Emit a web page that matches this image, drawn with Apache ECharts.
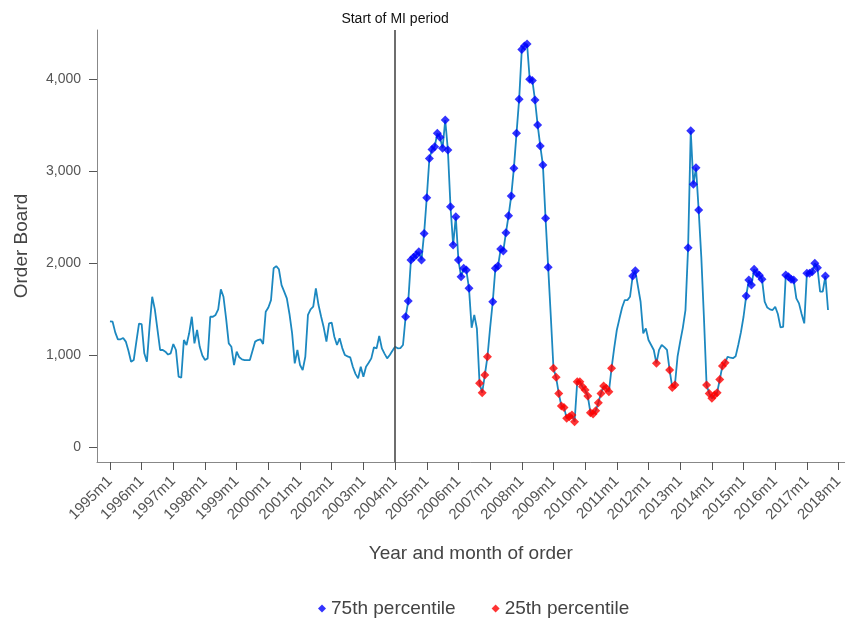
<!DOCTYPE html>
<html>
<head>
<meta charset="utf-8">
<script src="https://cdn.jsdelivr.net/npm/echarts@6/dist/echarts.min.js"></script>
<style>
html,body{margin:0;padding:0;background:#fff;}
#chart{width:846px;height:619px;}
</style>
</head>
<body>
<div id="chart"></div>
<script>
// Monthly order board, 1995m1 .. 2003m12 (pre-MI period)
const orderBoardPre = [
  1370,1366,1250,1175,1175,1190,1150,1050,932,950,1150,1345,
  1341,1023,932,1312,1637,1500,1280,1059,1059,1040,1010,1023,
  1124,1059,769,758,1167,1113,1240,1420,1131,1276,1094,1000,
  950,968,1420,1420,1440,1500,1717,1637,1400,1131,1094,896,
  1040,980,957,950,950,950,1050,1150,1167,1175,1124,1474,
  1520,1600,1946,1970,1935,1764,1692,1620,1450,1240,914,1059,
  896,841,986,1439,1501,1529,1728,1547,1420,1300,1149,1348,
  1355,1203,1113,1186,1080,1004,990,979,877,800,751,877,
  769,877,920,968,1088,1077,1211,1077,1020,968,1004,1050
];
// Monthly order board, 2004m1 .. 2017m9 (MI period)
const orderBoardMI = [
  1094,1077,1080,1113,1420,1590,2036,2065,2090,2126,2036,2325,
  2712,3138,3237,3266,3411,3368,3250,3556,3230,2615,2199,2506,
  2036,1855,1946,1927,1728,1300,1439,1290,697,595,787,986,
  1300,1583,1946,1970,2155,2134,2332,2517,2731,3031,3411,3781,
  4320,4360,4381,3998,3985,3773,3502,3274,3067,2489,1956,1420,
  860,762,588,451,436,317,335,353,280,714,714,660,
  624,559,378,364,400,486,588,668,643,606,860,1080,
  1276,1400,1520,1601,1601,1637,1862,1920,1750,1583,1240,1294,
  1167,1113,1059,914,1060,1113,1090,1060,841,653,679,986,
  1150,1300,1493,2170,3440,2858,3038,2579,2070,1410,679,588,
  534,570,595,740,885,921,986,975,970,990,1113,1250,
  1420,1645,1819,1764,1935,1891,1870,1826,1583,1520,1500,1493,
  1529,1450,1305,1310,1873,1855,1826,1819,1620,1565,1450,1348,
  1891,1891,1909,2000,1952,1692,1692,1862,1493
];
// Month indices (0 = 1995m1) flagged as above the 75th / below the 25th percentile
const p75Months = [112,113,114,115,116,117,118,119,120,121,122,123,124,125,126,127,128,129,130,131,132,133,134,135,136,
  145,146,147,148,149,150,151,152,153,154,155,156,157,158,159,160,161,162,163,164,165,166,
  198,199,219,220,221,222,223,241,242,243,244,245,246,247,256,257,258,259,264,265,266,267,268,271];
const p25Months = [140,141,142,143,168,169,170,171,172,173,174,175,176,177,178,179,180,181,182,183,184,185,186,187,188,189,190,
  207,212,213,214,226,227,228,229,230,231,232,233];
// Axis ticks
const tickMonths = [0,12,24,36,48,60,72,84,96,108,120,132,144,156,168,180,192,204,216,228,240,252,264,276];
const tickLabels = ['1995m1','1996m1','1997m1','1998m1','1999m1','2000m1','2001m1','2002m1','2003m1','2004m1','2005m1','2006m1',
  '2007m1','2008m1','2009m1','2010m1','2011m1','2012m1','2013m1','2014m1','2015m1','2016m1','2017m1','2018m1'];
const yTicks = [0,1000,2000,3000,4000];
const miStartMonth = 108;
const seriesNames = ['75th percentile','25th percentile'];

const values = orderBoardPre.concat(orderBoardMI);
const lineData = values.map((v,i)=>[i,v]);
const p75Data = p75Months.map(m=>[m, values[m]]);
const p25Data = p25Months.map(m=>[m, values[m]]);
const labelMap = {};
tickMonths.forEach((m,i)=>{labelMap[m]=tickLabels[i];});

const FONT = "'Liberation Sans', Arial, sans-serif";
const chart = echarts.init(document.getElementById('chart'), null, {renderer:'canvas'});
chart.setOption({
  animation:false,
  textStyle:{fontFamily:FONT},
  grid:{left:97,right:0,top:30,bottom:157,containLabel:false},
  legend:{
    data:seriesNames,
    left:313, top:594,
    icon:'diamond', itemWidth:8, itemHeight:8, itemGap:36,
    textStyle:{fontFamily:FONT,fontSize:19,color:'#444'}
  },
  xAxis:{
    type:'value', min:-4.91, max:278.3,
    name:'Year and month of order', nameLocation:'middle', nameGap:82,
    nameTextStyle:{fontFamily:FONT,fontSize:19,color:'#444'},
    axisLine:{show:true,onZero:false,lineStyle:{color:'#888',width:1}},
    axisTick:{show:true,length:8,lineStyle:{color:'#555'},customValues:tickMonths},
    axisLabel:{customValues:tickMonths,rotate:45,margin:17,fontFamily:FONT,fontSize:15,color:'#555',
      formatter:v=>labelMap[v]||''},
    splitLine:{show:false}
  },
  yAxis:{
    type:'value', min:-157, max:4533,
    name:'Order Board', nameLocation:'middle', nameGap:66, nameRotate:90,
    nameTextStyle:{fontFamily:FONT,fontSize:19,color:'#444'},
    axisLine:{show:true,onZero:false,lineStyle:{color:'#888',width:1}},
    axisTick:{show:true,length:8,lineStyle:{color:'#555'},customValues:yTicks},
    axisLabel:{customValues:yTicks,margin:16,fontFamily:FONT,fontSize:14,color:'#555',
      formatter:v=>Number(v).toLocaleString('en-US')},
    splitLine:{show:false}
  },
  series:[
    {
      type:'line', name:'Order Board', data:lineData, showSymbol:false, symbol:'none',
      lineStyle:{color:'#1c88c0',width:1.8}, z:2, silent:true,
      markLine:{
        silent:true, symbol:['none','none'],
        lineStyle:{color:'#4a4a4a',width:1.6,type:'solid'},
        label:{show:true,position:'end',formatter:'Start of MI period',color:'#111',fontSize:14,fontFamily:FONT,distance:4},
        data:[{xAxis:miStartMonth}]
      }
    },
    {type:'scatter', name:seriesNames[0], data:p75Data, symbol:'diamond', symbolSize:9,
      itemStyle:{color:'#0000ff'}, z:3},
    {type:'scatter', name:seriesNames[1], data:p25Data, symbol:'diamond', symbolSize:9,
      itemStyle:{color:'#ff0000'}, z:3}
  ]
});
</script>
</body>
</html>
